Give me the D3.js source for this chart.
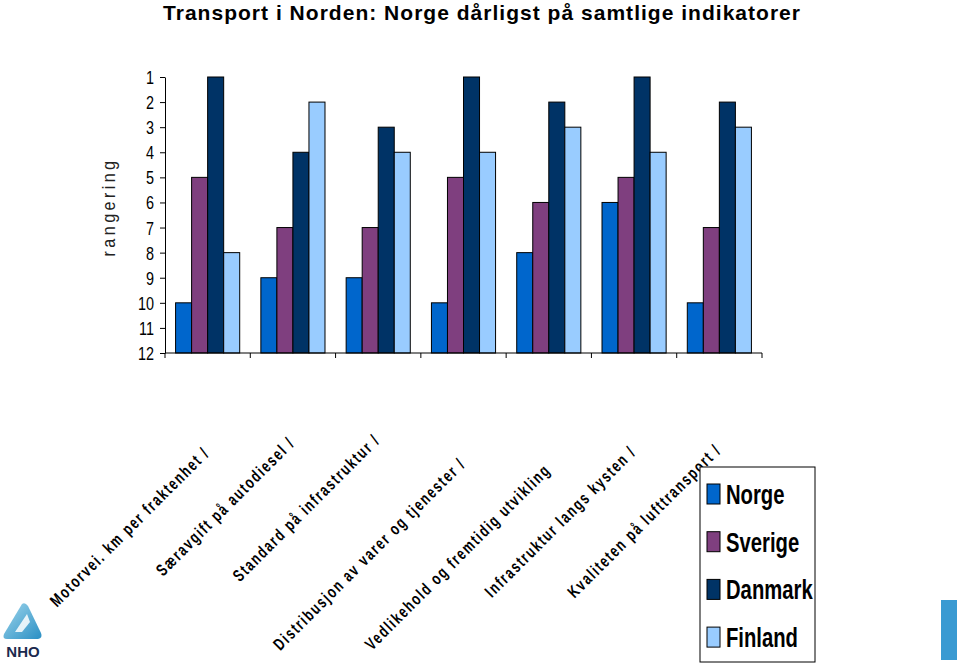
<!DOCTYPE html>
<html><head><meta charset="utf-8">
<script src="https://cdn.jsdelivr.net/npm/d3@7"></script>
<style>
html,body{margin:0;padding:0;background:#fff;}
svg{display:block;}
</style></head>
<body>
<svg id="chart" width="960" height="665"></svg>
<script>
const categories = [
  "Motorvei. km per fraktenhet /",
  "Særavgift på autodiesel /",
  "Standard på infrastruktur /",
  "Distribusjon av varer og tjenester /",
  "Vedlikehold og fremtidig utvikling",
  "Infrastruktur langs kysten /",
  "Kvaliteten på lufttransport /"
];
const seriesNames = ["Norge", "Sverige", "Danmark", "Finland"];
const norge   = [10, 9, 9, 10, 8, 6, 10];
const sverige = [5, 7, 7, 5, 6, 5, 7];
const danmark = [1, 4, 3, 1, 2, 1, 2];
const finland = [8, 2, 4, 4, 3, 4, 3];
const yTicks = [1,2,3,4,5,6,7,8,9,10,11,12];
const titleText = "Transport i Norden: Norge dårligst på samtlige indikatorer";
const yLabel = "rangering";

(function(){
const colors = ["#0066CC", "#7F3F7F", "#003366", "#99CCFF"];
const values = [norge, sverige, danmark, finland];
const labelEndY = [454, 444, 441, 465, 471, 453, 451];

const svg = d3.select("#chart");
const sans = "'Liberation Sans',Arial,sans-serif";
const squeeze = 0.8;

const pLeft = 165, pRight = 762, pTop = 77, pBottom = 353;
const x = d3.scaleBand().domain(categories).range([pLeft, pRight]).paddingInner(0).paddingOuter(0);
const xs = d3.scaleBand().domain(seriesNames).range([0, x.bandwidth()]).paddingInner(0).paddingOuter(0.66);
const y = d3.scaleLinear().domain([12, 1]).range([pBottom, pTop]);

svg.append("text").attr("x", 163).attr("y", 20)
  .attr("font-family", sans).attr("font-weight", "bold").attr("font-size", 21)
  .attr("textLength", 637).attr("lengthAdjust", "spacing")
  .attr("fill", "#000").text(titleText);

const groups = svg.append("g").selectAll("g").data(categories).join("g")
  .attr("transform", d => `translate(${x(d)},0)`);
groups.selectAll("rect").data((c, i) => seriesNames.map((s, j) => ({s, v: values[j][i], j})))
  .join("rect")
  .attr("x", d => xs(d.s)).attr("width", xs.bandwidth())
  .attr("y", d => y(d.v)).attr("height", d => pBottom - y(d.v))
  .attr("fill", d => colors[d.j]).attr("stroke", "#000").attr("stroke-width", 1);

const yAxis = svg.append("g").attr("transform", `translate(${pLeft},0)`)
  .call(d3.axisLeft(y).tickValues(yTicks).tickFormat(d3.format("d")).tickSize(5).tickSizeOuter(0));
yAxis.select(".domain").attr("stroke", "#000");
yAxis.selectAll(".tick line").attr("stroke", "#000");
yAxis.selectAll("text").attr("font-family", sans).attr("font-size", 18).attr("fill", "#000")
  .attr("transform", `scale(${squeeze},1)`)
  .attr("x", -11 / squeeze).attr("dy", "0.36em");

const xAxis = svg.append("g").attr("transform", `translate(0,${pBottom})`);
xAxis.append("line").attr("x1", pLeft).attr("x2", pRight).attr("stroke", "#000");
xAxis.selectAll("line.t").data(categories.map(c => x(c)).concat([pRight])).join("line")
  .attr("class", "t").attr("x1", d => d).attr("x2", d => d).attr("y1", 0).attr("y2", 5).attr("stroke", "#000");

svg.append("g").selectAll("text").data(categories).join("text")
  .attr("transform", (d, i) => `translate(${x(d) + x.bandwidth()/2 + 3},${labelEndY[i]}) rotate(-45) scale(0.72,1)`)
  .attr("text-anchor", "end")
  .attr("font-family", sans).attr("font-weight", "bold").attr("font-size", 17)
  .attr("letter-spacing", 2.4).attr("fill", "#000").text(d => d);

svg.append("text").attr("transform", "translate(115,207) rotate(-90) scale(0.85,1)")
  .attr("text-anchor", "middle").attr("font-family", sans).attr("font-size", 19)
  .attr("letter-spacing", 4).attr("fill", "#222").text(yLabel);

const lg = svg.append("g").attr("transform", "translate(700,467)");
lg.append("rect").attr("width", 115).attr("height", 195).attr("fill", "#fff").attr("stroke", "#000");
const li = lg.selectAll("g").data(seriesNames).join("g")
  .attr("transform", (d, i) => `translate(0,${27 + i * 47.7})`);
li.append("rect").attr("x", 7).attr("y", -10).attr("width", 13).attr("height", 20)
  .attr("fill", (d, i) => colors[i]).attr("stroke", "#000");
li.append("text").attr("transform", "translate(26,10) scale(0.75,1)").attr("font-family", sans).attr("font-weight", "bold")
  .attr("font-size", 27).attr("fill", "#000").text(d => d);

const logo = svg.append("g").attr("transform", "translate(0,600)");
const grad = svg.append("defs").append("linearGradient").attr("id", "lg1").attr("x1", 0).attr("y1", 0).attr("x2", 1).attr("y2", 1);
grad.append("stop").attr("offset", "0%").attr("stop-color", "#9fd6ec");
grad.append("stop").attr("offset", "100%").attr("stop-color", "#2a8fc4");
logo.append("path").attr("d", "M22,4 Q25,2 28,6 L41,33 Q43,38 38,39 L7,39 Q2,39 4,34 Z").attr("fill", "url(#lg1)");
logo.append("path").attr("d", "M15,32 L27,14 L30,22 L22,32 Z").attr("fill", "#fff").attr("opacity", 0.85);
logo.append("text").attr("x", 23).attr("y", 57).attr("text-anchor", "middle")
  .attr("font-family", sans).attr("font-weight", "bold").attr("font-size", 15).attr("fill", "#1b2a4e").text("NHO");

svg.append("rect").attr("x", 941).attr("y", 600).attr("width", 16).attr("height", 60).attr("fill", "#3a9ad2");
})();
</script>
</body></html>
